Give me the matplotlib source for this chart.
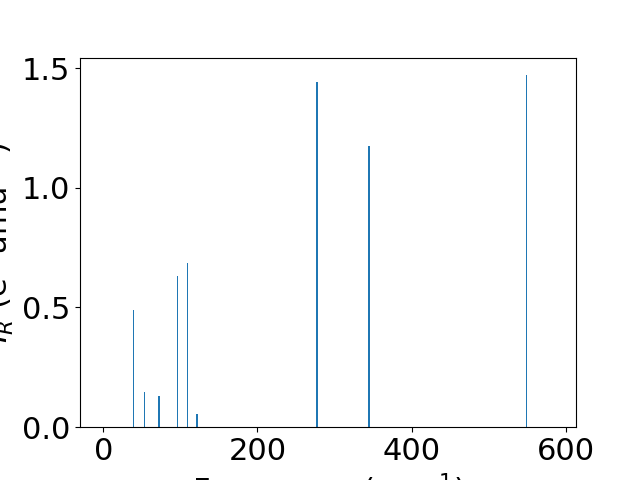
import matplotlib
matplotlib.use('Agg')
import matplotlib.pyplot as plt

# frecuencias (cm^-1) e intensidades IR
freqs = [0, 39, 53.5, 72, 96, 109.5, 121.5, 277, 345, 549, 583]
intens = [0.0, 0.49, 0.145, 0.13, 0.63, 0.685, 0.055, 1.44, 1.175, 1.47, 0.0]

plt.rcParams['font.size'] = 22

fig = plt.figure(figsize=(6.4, 4.8), dpi=100)
plt.bar(freqs, intens, width=2)
plt.xlabel('Frequency (cm$^{-1}$)')
plt.ylabel('$I_R$ (e$^2$ amu$^{-1}$)')
plt.savefig('out.png')
